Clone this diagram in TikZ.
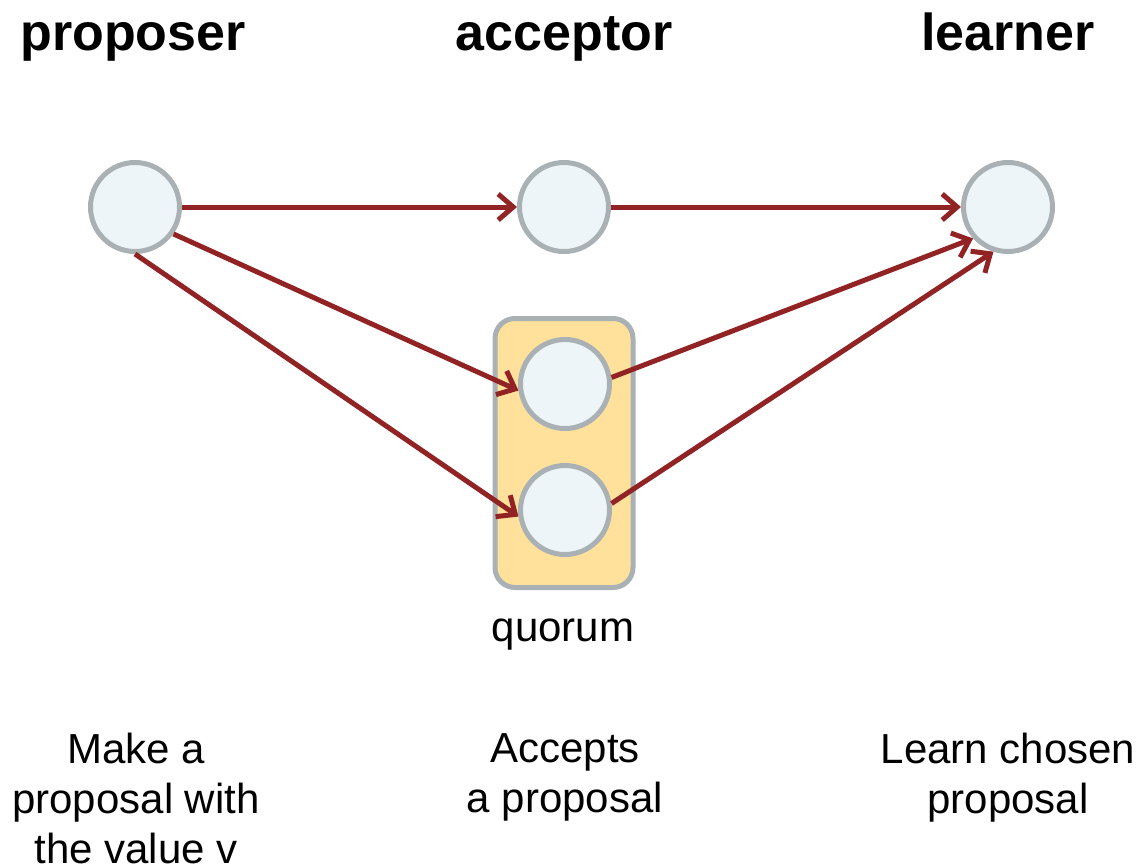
\documentclass[tikz,border=0pt]{standalone}
\usepackage{fontspec}
\setmainfont{Liberation Sans}
\usetikzlibrary{arrows.meta}
\definecolor{arr}{HTML}{922324}
\definecolor{ring}{HTML}{A9B1B4}
\definecolor{cfill}{HTML}{EEF5F8}
\definecolor{qfill}{HTML}{FFE19B}
\begin{document}
\begin{tikzpicture}[x=1pt,y=-1pt,
  role/.style={circle,draw=ring,fill=cfill,line width=5pt,minimum size=89pt,inner sep=0pt},
  msg/.style={draw=arr,line width=5pt,-{Straight Barb[length=15pt,width=26pt,line width=5pt]}},
  head/.style={font=\fontsize{52}{56}\selectfont\bfseries,anchor=base},
  desc/.style={font=\fontsize{42}{50}\selectfont,align=center,anchor=north}]
\useasboundingbox (0,0) rectangle (1144,868);
\node[draw=ring,fill=qfill,line width=5pt,rounded corners=20pt,minimum width=138pt,minimum height=269pt] (quorum) at (564,453) {};
\node (prop) [role] at (135,207) {};
\node (acc) [role] at (564,207) {};
\node (lrn) [role] at (1008,207) {};
\node (q1) [role] at (565,384) {};
\node (q2) [role] at (565,510) {};
\node[head] (hprop) at (133,50) {proposer};
\node[head] (hacc) at (564,50) {acceptor};
\node[head] (hlrn) at (1008,50) {learner};
\node[font=\fontsize{42}{50}\selectfont,anchor=base] (qlab) at (563,641) {quorum};
\node[desc] (dprop) at (136,730) {Make a\\proposal with\\the value v};
\node[desc] (dacc) at (565,730) {Accepts\\a proposal};
\node[desc] (dlrn) at (1008,730) {Learn chosen\\proposal};
\draw[msg] (prop.east) -- (acc.west);
\draw[msg] (acc.east) -- (lrn.west);
\draw[msg] (prop.-35) -- (q1.188);
\draw[msg] (prop.-90) -- (q2.188);
\draw[msg] (q1.8) -- (lrn.222);
\draw[msg] (q2.8) -- (lrn.252);
\end{tikzpicture}
\end{document}
